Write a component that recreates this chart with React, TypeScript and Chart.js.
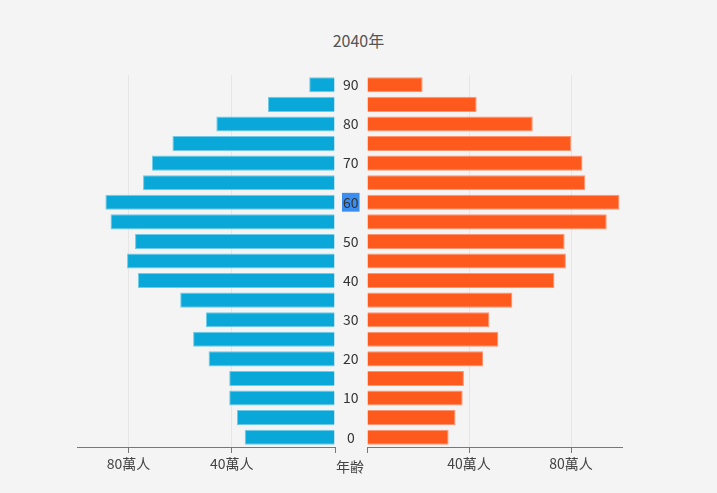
import React, { useEffect, useRef } from "react";
import { Chart, registerables } from "chart.js";
Chart.register(...registerables);

const ages = ["0","5","10","15","20","25","30","35","40","45","50","55","60","65","70","75","80","85","90"];
const male = [35,38,41,41,49,55,50,60,76.4,80.6,77.5,87,89,74.4,71,63,46,26,10];
const female = [32,34.7,37.5,38,45.5,51.5,48,57,73.5,78,77.5,94,99,85.6,84.5,80,65,43,21.8];
const xTicks = [0,20,40,60,80,100];
const title = "2040年";
const FONT = "'Noto Sans CJK TC', 'Noto Sans', sans-serif";

function makeX(reverse: boolean) {
  return {
    min: 0, max: 100, reverse,
    afterFit: (s: any) => { s.height = 46; },
    afterBuildTicks: (s: any) => { s.ticks = xTicks.map(v => ({ value: v })); },
    ticks: { color: "#444", font: { family: FONT, size: 14 }, padding: 2, maxRotation: 0,
      callback: (v: any) => (v === 0 ? "" : v + "萬人") },
    grid: { color: (c: any) => (c.tick && c.tick.value === 0 ? "rgba(0,0,0,0)" : "#e6e6e6"), tickLength: 6, tickColor: "#777" },
    border: { color: "#777" },
  };
}

export default function App() {
  const lref = useRef<HTMLCanvasElement>(null);
  const rref = useRef<HTMLCanvasElement>(null);
  useEffect(() => {
    const common = { responsive: false, animation: false as const, indexAxis: "y" as const,
      plugins: { legend: { display: false }, tooltip: { enabled: false } } };
    const left = new Chart(lref.current!, {
      type: "bar",
      data: { labels: ages, datasets: [{ data: male, backgroundColor: "#0aa8d8", borderColor: "#6fcbe9", borderWidth: 1, barPercentage: 0.77, categoryPercentage: 1 }] },
      options: { ...common, layout: { padding: { left: 77, right: 0, top: 75, bottom: 0 } },
        scales: {
          x: makeX(true) as any,
          y: { position: "right", reverse: true, afterFit: (s: any) => { s.width = 30; },
            grid: { display: false }, border: { display: false },
            ticks: { autoSkip: false, crossAlign: "center", padding: 0, color: "#333",
              font: { family: FONT, size: 14 },
              callback: (_v: any, i: number) => (Number(ages[i]) % 10 === 0 ? ages[i] : ""),
              showLabelBackdrop: (c: any) => ages[c.index] === "60",
              backdropColor: "#3a8ef2", backdropPadding: { top: 1, bottom: 1, left: 1, right: 1 } } as any },
        } } as any,
    });
    const right = new Chart(rref.current!, {
      type: "bar",
      data: { labels: ages, datasets: [{ data: female, backgroundColor: "#ff5a1e", borderColor: "#ff9470", borderWidth: 1, barPercentage: 0.77, categoryPercentage: 1 }] },
      options: { ...common, layout: { padding: { left: 0, right: 95, top: 75, bottom: 0 } },
        scales: { x: makeX(false) as any, y: { display: false, reverse: true } } } as any,
    });
    return () => { left.destroy(); right.destroy(); };
  }, []);
  return (
    <div style={{ position: "absolute", left: 0, top: 0, width: 717, height: 493, background: "#f4f4f4", fontFamily: FONT }}>
      <div style={{ position: "absolute", top: 28, left: 0, width: 717, textAlign: "center", fontSize: 16, color: "#555" }}>{title}</div>
      <canvas ref={lref} width={365} height={493} style={{ position: "absolute", left: 0, top: 0 }} />
      <canvas ref={rref} width={352} height={493} style={{ position: "absolute", left: 365, top: 0 }} />
      <div style={{ position: "absolute", top: 456, left: 330, width: 40, textAlign: "center", fontSize: 14, color: "#444" }}>年齢</div>
    </div>
  );
}
